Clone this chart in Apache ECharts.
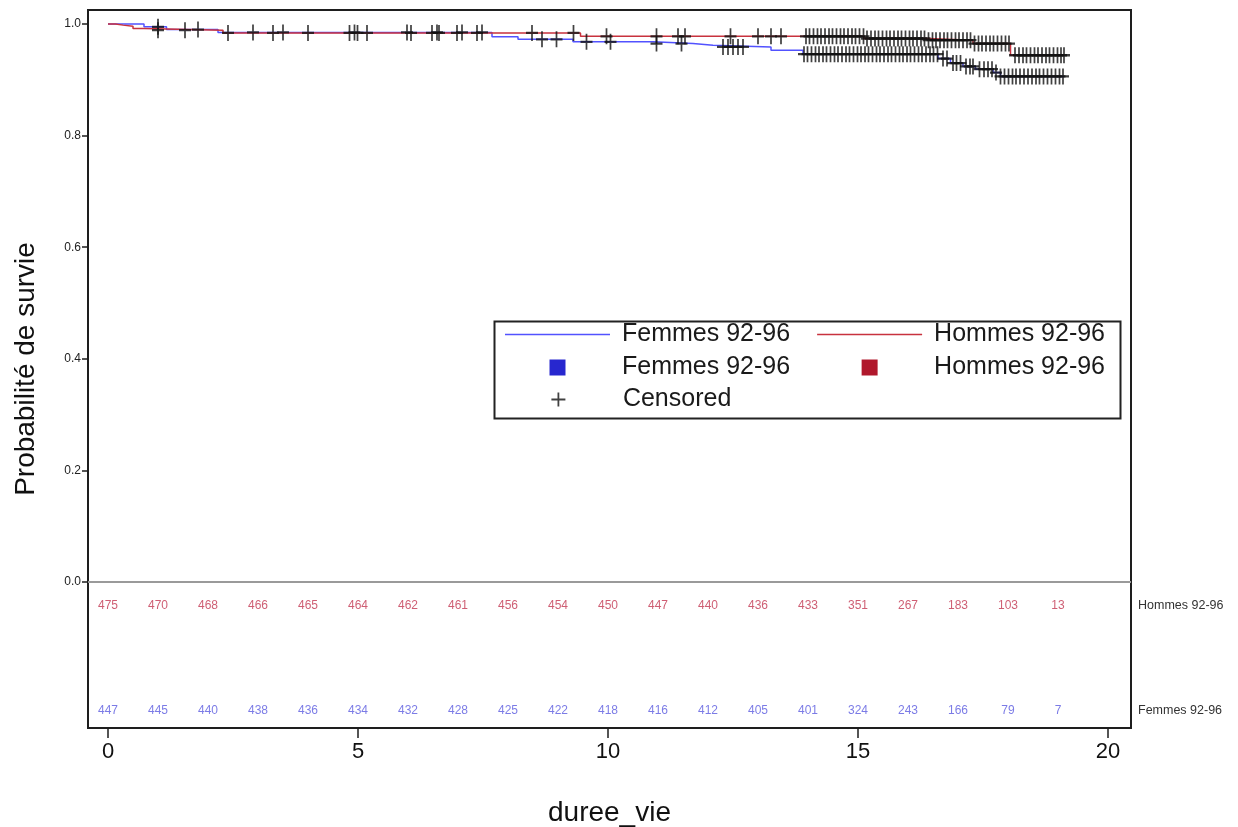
<!DOCTYPE html>
<html><head><meta charset="utf-8">
<script src="https://cdn.jsdelivr.net/npm/echarts@6/dist/echarts.min.js"></script>
<style>html,body{margin:0;padding:0;background:#fff}#c{width:1238px;height:827px}</style>
</head><body><div id="c"></div>
<script>
// ---- data ----
const groupF = 'Femmes 92-96';
const groupH = 'Hommes 92-96';
const xTicks = [0, 5, 10, 15, 20];
const yTicks = [0, 0.2, 0.4, 0.6, 0.8, 1.0];

const riskTimes  = [0,1,2,3,4,5,6,7,8,9,10,11,12,13,14,15,16,17,18,19];
const riskHommes = [475,470,468,466,465,464,462,461,456,454,450,447,440,436,433,351,267,183,103,13];
const riskFemmes = [447,445,440,438,436,434,432,428,425,422,418,416,412,405,401,324,243,166,79,7];

// Kaplan-Meier step estimates (time at which value starts, survival)
const femmesTimes = [0, 0.72, 1.17, 2.2, 7.68, 8.2, 9.3, 10.9, 11.7, 12.1, 13.26, 13.9, 16.6, 16.85, 17.1, 17.35, 17.7, 17.85, 19.12];
const femmesSurv  = [1.0, 0.995, 0.990, 0.985, 0.977, 0.9725, 0.968, 0.965, 0.962, 0.959, 0.953, 0.946, 0.938, 0.930, 0.924, 0.919, 0.913, 0.906, 0.906];
const hommesTimes = [0, 0.15, 0.3, 0.5, 0.72, 2.3, 9.45, 15.12, 16.4, 17.3, 18.05, 19.12];
const hommesSurv  = [1.0, 0.998, 0.996, 0.992, 0.989, 0.984, 0.978, 0.974, 0.971, 0.965, 0.944, 0.944];

// censoring times
const femmesCensor = [1.0,1.8,2.9,3.5,4.93,5.98,6.58,7.08,7.48,8.68,8.97,9.57,10.05,10.97,11.47,12.3,12.4,12.5,12.6,12.7,
  13.92,13.99,14.07,14.15,14.22,14.3,14.37,14.45,14.53,14.6,14.68,14.76,14.83,14.91,14.99,15.06,15.14,15.21,15.29,15.37,
  15.44,15.52,15.6,15.67,15.75,15.83,15.9,15.98,16.05,16.13,16.21,16.28,16.36,16.44,16.51,16.59,16.7,16.78,16.9,16.97,
  17.05,17.16,17.24,17.3,17.43,17.52,17.6,17.68,17.76,17.85,17.93,18.01,18.09,18.16,18.24,18.32,18.4,18.48,18.56,
  18.63,18.71,18.79,18.87,18.95,19.03,19.1];
const hommesCensor = [1.0,1.54,2.4,3.3,4.0,4.83,4.99,5.18,6.06,6.48,6.62,6.98,7.38,8.48,9.31,9.97,10.97,11.4,11.54,12.45,13.0,13.26,13.46,
  13.96,14.03,14.11,14.19,14.26,14.34,14.42,14.49,14.57,14.65,14.72,14.8,14.88,14.95,15.03,15.11,15.18,15.26,15.34,
  15.41,15.49,15.57,15.64,15.72,15.8,15.87,15.95,16.03,16.1,16.18,16.26,16.33,16.41,16.49,16.56,16.64,16.72,16.79,
  16.87,16.95,17.02,17.1,17.18,17.25,17.33,17.41,17.48,17.56,17.64,17.71,17.79,17.87,17.95,18.02,18.14,18.22,18.3,
  18.37,18.45,18.53,18.6,18.68,18.76,18.83,18.91,18.99,19.06,19.12];

// ---- helpers ----
function survAt(times, surv, t) {
  let s = surv[0];
  for (let i = 0; i < times.length; i++) { if (times[i] <= t) s = surv[i]; else break; }
  return s;
}
const ROW_H = -0.043, ROW_F = -0.231;

const censorData = []
  .concat(femmesCensor.map(t => [t, survAt(femmesTimes, femmesSurv, t)]))
  .concat(hommesCensor.map(t => [t, survAt(hommesTimes, hommesSurv, t)]));

const FONT = 'Liberation Sans, Arial, sans-serif';
const blueLine = '#5252ff', redLine = '#c8323e';
const blueText = '#5a5ae0', redText = '#c23650';
const blueSq = '#2727cf', redSq = '#b0182c';

const LEG_FS = 25;
const chart = echarts.init(document.getElementById('c'), null, {renderer: 'canvas'});
chart.setOption({
  animation: false,
  textStyle: {fontFamily: FONT},
  grid: {left: 88, right: 107, top: 10, bottom: 99, outerBoundsMode: 'none', containLabel: false,
    show: true, borderColor: '#1e1e1e', borderWidth: 2, backgroundColor: '#fff'},
  xAxis: {
    type: 'value', min: -0.4, max: 20.46,
    axisLine: {show: false, onZero: false}, splitLine: {show: false},
    axisTick: {show: true, customValues: xTicks, length: 10, lineStyle: {color: '#1e1e1e', width: 1.5}},
    axisLabel: {customValues: xTicks, fontSize: 22, color: '#111', margin: 13},
    name: 'duree_vie', nameLocation: 'middle', nameGap: 71,
    nameTextStyle: {fontSize: 28, color: '#111'}
  },
  yAxis: [{
    type: 'value', min: -0.2616, max: 1.0251,
    axisLine: {show: false, onZero: false}, splitLine: {show: false},
    axisTick: {show: true, customValues: yTicks, length: 6, lineStyle: {color: '#1e1e1e', width: 1.5}},
    axisLabel: {customValues: yTicks, fontSize: 12, color: '#222', margin: 7, formatter: v => v.toFixed(1)},
    name: 'Probabilité de survie', nameLocation: 'middle', nameGap: 48,
    nameTextStyle: {fontSize: 28, color: '#111'}
  }, {
    type: 'value', position: 'right', min: -0.2616, max: 1.0251,
    axisLine: {show: false, onZero: false}, splitLine: {show: false}, axisTick: {show: false},
    axisLabel: {customValues: [ROW_H, ROW_F], fontSize: 12.5, color: '#333', margin: 7,
      formatter: v => (v > -0.1 ? groupH : groupF)}
  }],
  legend: [{
    left: 505, top: 322, padding: 0, itemWidth: 105, itemHeight: 14, itemGap: 27, selectedMode: false,
    textStyle: {fontSize: LEG_FS, color: '#1a1a1a', padding: [0, 0, 0, 7]},
    data: [
      {name: groupF, icon: 'path://M0,0H105V1.6H0Z', itemStyle: {color: blueLine, opacity: 1}},
      {name: groupH, icon: 'path://M0,0H105V1.6H0Z', itemStyle: {color: redLine, opacity: 1}}
    ]
  }, {
    left: 549.5, top: 355, padding: 0, itemWidth: 105, itemHeight: 16, itemGap: 71.5, selectedMode: false,
    textStyle: {fontSize: LEG_FS, color: '#1a1a1a', padding: [0, 0, 0, 7]},
    formatter: n => (n === 'riskF' ? groupF : groupH),
    data: [
      {name: 'riskF', icon: 'path://M0,0H10V10H0Z', itemStyle: {color: blueSq, opacity: 1, borderWidth: 0}},
      {name: 'riskH', icon: 'path://M0,0H10V10H0Z', itemStyle: {color: redSq, opacity: 1, borderWidth: 0}}
    ]
  }, {
    left: 550.5, top: 387, padding: 0, itemWidth: 105, itemHeight: 14, selectedMode: false,
    textStyle: {fontSize: LEG_FS, color: '#1a1a1a', padding: [0, 0, 0, 7]},
    data: [{name: 'Censored', icon: 'path://M7,0V14M0,7H14',
      itemStyle: {color: 'transparent', borderColor: '#111', borderWidth: 1.8}}]
  }],
  graphic: [{
    type: 'rect', left: 492, top: 319, z: 100, silent: true,
    shape: {width: 626, height: 97}, style: {fill: 'none', stroke: '#222', lineWidth: 2}
  }],
  series: [{
    name: groupF, type: 'line', step: 'end', symbol: 'none', z: 3,
    lineStyle: {color: blueLine, width: 1.5}, itemStyle: {color: blueLine},
    data: femmesTimes.map((t, i) => [t, femmesSurv[i]])
  }, {
    name: groupH, type: 'line', step: 'end', symbol: 'none', z: 4,
    lineStyle: {color: redLine, width: 1.5}, itemStyle: {color: redLine},
    data: hommesTimes.map((t, i) => [t, hommesSurv[i]]),
    markLine: {silent: true, symbol: 'none', label: {show: false},
      lineStyle: {color: '#9a9a9a', width: 2, type: 'solid'}, data: [{yAxis: 0}]}
  }, {
    name: 'Censored', type: 'scatter', z: 5,
    symbol: 'path://M7,0V16M0,8H14', symbolSize: [12, 16],
    itemStyle: {color: 'transparent', borderColor: '#111', borderWidth: 2},
    data: censorData
  }, {
    name: 'riskH', type: 'scatter', symbolSize: 0, itemStyle: {color: redSq},
    label: {show: true, position: 'inside', fontSize: 12, color: redText, formatter: p => String(p.value[2])},
    data: riskTimes.map((t, i) => [t, ROW_H, riskHommes[i]])
  }, {
    name: 'riskF', type: 'scatter', symbolSize: 0, itemStyle: {color: blueSq},
    label: {show: true, position: 'inside', fontSize: 12, color: blueText, formatter: p => String(p.value[2])},
    data: riskTimes.map((t, i) => [t, ROW_F, riskFemmes[i]])
  }]
});
</script></body></html>
